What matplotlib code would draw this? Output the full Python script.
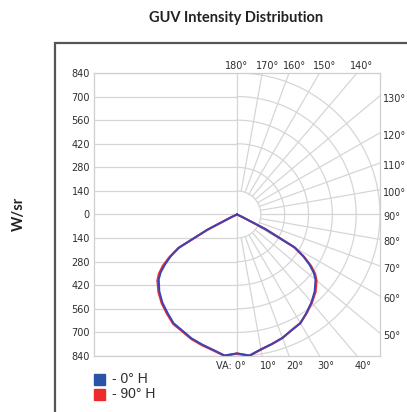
import numpy as np
import matplotlib
matplotlib.use("Agg")
import matplotlib.pyplot as plt
from matplotlib.patches import Rectangle

# vertical angles (deg from nadir) and intensities (W/sr)
gamma = [0, 5, 10, 15, 20, 25, 30, 35, 40, 45, 50, 52.5, 55, 57.5, 60, 62.5, 65, 67.5,
         70, 75, 80, 85, 90]
h0_right = [824, 840, 812, 795, 780, 758, 745, 712, 680, 645, 602, 568, 520, 462, 395, 195,
            30, 0, 0, 0, 0, 0, 0]
h0_left = [824, 840, 815, 798, 782, 760, 745, 712, 682, 645, 600, 565, 515, 462, 400, 200,
           35, 0, 0, 0, 0, 0, 0]
h90_right = [826, 842, 814, 796, 780, 758, 744, 714, 684, 652, 610, 578, 530, 466, 385, 185,
             25, 0, 0, 0, 0, 0, 0]
h90_left = [826, 842, 818, 802, 786, 764, 750, 718, 688, 652, 610, 578, 532, 470, 392, 192,
            30, 0, 0, 0, 0, 0, 0]

rings = [140, 280, 420, 560, 700, 840]
y_ticks = [840, 700, 560, 420, 280, 140, 0, -140, -280, -420, -560, -700, -840]
bottom_angles = [10, 20, 30, 40]
side_angles = [50, 60, 70, 80, 90, 100, 110, 120, 130]
top_angles = [170, 160, 150, 140]

GRID = "#d6d6d6"
TXT = "#2e2e2e"
BLUE = "#3a44b8"
RED = "#ee2b2b"
FS = 7


def to_xy(ang, r):
    a = np.radians(ang)
    r = np.asarray(r, dtype=float)
    return r * np.sin(a), -r * np.cos(a)


def curve(left, right):
    ang = [-g for g in gamma[::-1]] + gamma[1:]
    r = left[::-1] + right[1:]
    return to_xy(np.array(ang), r)


W, H = 407, 412
fig = plt.figure(figsize=(W / 100, H / 100), dpi=100)

# outer chart frame
fig.patches.append(Rectangle((55 / W, -0.2), 1.0, 1.2 - 43 / H, transform=fig.transFigure,
                             fill=False, edgecolor="#555555", linewidth=1.6))

ax = fig.add_axes([94 / W, 1 - 356 / H, 286 / W, 283 / H])
ax.set_xlim(-840, 840)
ax.set_ylim(-840, 840)
for s in ax.spines.values():
    s.set_color("#cfcfcf")
    s.set_linewidth(0.9)
ax.set_xticks([])
ax.set_yticks(y_ticks)
ax.set_yticklabels([str(abs(v)) for v in y_ticks], fontsize=FS, color=TXT)
ax.tick_params(axis="y", length=0, pad=3)

# left half: horizontal grid
for v in y_ticks:
    ax.plot([-840, 0], [v, v], color=GRID, lw=0.9, zorder=1)
ax.plot([0, 0], [-840, 840], color=GRID, lw=0.9, zorder=1)

# right half: polar grid
t = np.linspace(0, 180, 200)
for r in rings:
    x, y = to_xy(t, np.full_like(t, r))
    ax.plot(x, y, color=GRID, lw=0.9, zorder=1)
for a in range(10, 180, 10):
    x, y = to_xy(np.array([a, a]), [140, 1500])
    ax.plot(x, y, color=GRID, lw=0.9, zorder=1)

# curves
x, y = curve(h90_left, h90_right)
ax.plot(x, y, color=RED, lw=1.6, zorder=3)
x, y = curve(h0_left, h0_right)
ax.plot(x, y, color=BLUE, lw=1.4, zorder=4)

# angle labels
ax.annotate("VA: 0°", (0, -840), xytext=(9, -5), textcoords="offset pixels",
            fontsize=FS, color=TXT, ha="right", va="top")
for a in bottom_angles:
    ax.annotate(f"{a}°", (840 * np.tan(np.radians(a)), -840), xytext=(6, -5),
                textcoords="offset pixels", fontsize=FS, color=TXT, ha="center", va="top")
for a in side_angles:
    ax.annotate(f"{a}°", (840, -840 / np.tan(np.radians(a))), xytext=(3, -3),
                textcoords="offset pixels", fontsize=FS, color=TXT, ha="left", va="center")
ax.annotate("180°", (0, 840), xytext=(0, 2), textcoords="offset pixels",
            fontsize=FS, color=TXT, ha="center", va="bottom")
for a in top_angles:
    ax.annotate(f"{a}°", (840 * np.tan(np.radians(180 - a)), 840), xytext=(5, 2),
                textcoords="offset pixels", fontsize=FS, color=TXT, ha="center", va="bottom")

# titles
fig.text(236.5 / W, 1 - 18 / H, "GUV Intensity Distribution", family="Lato",
         weight="bold", fontsize=10.5, ha="center", va="center", color="#222222")
fig.text(19 / W, 1 - 214 / H, "W/sr", family="Lato", weight="bold", fontsize=10.5,
         rotation=90, ha="center", va="center", color="#222222")

# legend
for i, (lab, col) in enumerate([("- 0° H", "#2a52a8"), ("- 90° H", RED)]):
    yc = 379 + 15 * i
    fig.patches.append(Rectangle((94 / W, 1 - (yc + 5.5) / H), 11 / W, 11 / H,
                                 transform=fig.transFigure, color=col))
    fig.text(112 / W, 1 - yc / H, lab, family="Liberation Sans", fontsize=10,
             ha="left", va="center", color=TXT)

fig.savefig("out.png", dpi=100)
